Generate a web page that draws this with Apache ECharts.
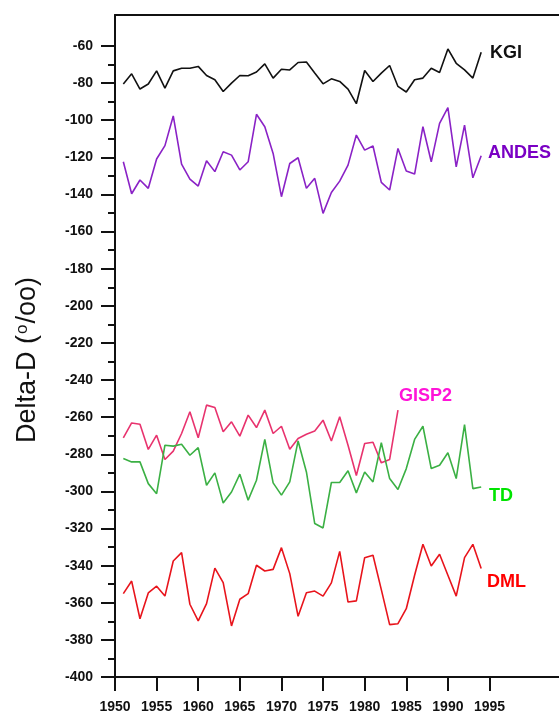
<!DOCTYPE html>
<html>
<head>
<meta charset="utf-8">
<script src="https://cdn.jsdelivr.net/npm/echarts@6/dist/echarts.min.js"></script>
<style>
  html, body { margin: 0; padding: 0; background: #fff; }
  #chart { width: 559px; height: 715px; }
</style>
</head>
<body>
<div id="chart"></div>
<script>
// Annual deuterium records, 1951-1994
const years = [1951,1952,1953,1954,1955,1956,1957,1958,1959,1960,
               1961,1962,1963,1964,1965,1966,1967,1968,1969,1970,
               1971,1972,1973,1974,1975,1976,1977,1978,1979,1980,
               1981,1982,1983,1984,1985,1986,1987,1988,1989,1990,
               1991,1992,1993,1994];

const kgi = [-80.5,-75,-83.2,-80.5,-73.4,-82.7,-73.4,-72,-72,-71,
             -75.9,-78.2,-84.5,-80,-75.9,-76,-74,-69.6,-77.3,-72.5,
             -72.9,-68.9,-68.6,-74.6,-80.4,-77.7,-79.1,-83.2,-91.1,-73.2,
             -79.1,-74.6,-70.5,-81.8,-84.8,-78.2,-77.3,-72,-74.3,-61.6,
             -69.3,-72.9,-77.3,-63.4];

const andes = [-122.4,-139.6,-132.2,-136.7,-120.9,-113.7,-97.7,-123.6,-131.7,-135.5,
               -121.8,-127.7,-117,-118.8,-126.8,-122.4,-96.8,-103.5,-117.9,-141.2,
               -123.3,-120.2,-136.7,-131.3,-150.2,-138.9,-132.8,-124.2,-108,-116.1,
               -113.9,-133.5,-137.6,-115.2,-127.4,-129,-103.5,-122.4,-101.7,-93.2,
               -125.1,-102.6,-131,-119.1];

// GISP2 ends in 1984
const gisp2 = [-271.1,-263.1,-263.8,-277.4,-269.7,-282.8,-278.3,-268.8,-257.1,-271.1,
               -253.5,-254.8,-267.9,-262.5,-270.2,-258.9,-265.6,-256.2,-268.8,-264.9,
               -277.3,-271.5,-269.2,-267.5,-261.6,-272.8,-259.8,-275.1,-291.4,-274.2,
               -273.5,-284.6,-282.8,-256.2];

const td = [-282.3,-284.1,-284.1,-295.8,-301.2,-275.1,-275.6,-274.6,-280.5,-276.4,
            -296.7,-290,-306.2,-300.3,-290.7,-304.7,-294,-272,-295.4,-302,
            -294.9,-272.8,-289.5,-317.3,-319.7,-295.2,-295.2,-288.9,-300.8,-289.5,
            -294.9,-273.8,-293.1,-299,-287.7,-272,-264.9,-287.7,-285.9,-279.2,
            -293.1,-264,-298.5,-297.6];

const dml = [-355.1,-348.3,-368.6,-354.7,-351.1,-356.4,-337.5,-333,-360.8,-369.8,
             -360.5,-341.3,-349.2,-372.5,-358.1,-355.1,-339.8,-342.9,-342,-330.3,
             -344.3,-367.3,-354.6,-353.7,-356.4,-349.3,-332.3,-359.6,-359,-335.7,
             -334.4,-352.9,-371.8,-371.3,-363.2,-345.2,-328.5,-340.2,-333.9,-345.2,
             -356.4,-335.7,-328.5,-341.6];

// Axis ticks
const xTicks = [1950,1955,1960,1965,1970,1975,1980,1985,1990,1995];
const yMajor = [-400,-380,-360,-340,-320,-300,-280,-260,-240,-220,
                -200,-180,-160,-140,-120,-100,-80,-60];
const yMinor = [-390,-370,-350,-330,-310,-290,-270,-250,-230,-210,
                -190,-170,-150,-130,-110,-90,-70];

const seriesNames = ['KGI','ANDES','GISP2','TD','DML'];
const seriesValues = [kgi, andes, gisp2, td, dml];
const lineColors = ['#111111','#8a22c6','#e8336e','#3bb044','#e8141c'];
const labelColors = ['#111111','#7a00c4','#ff14d8','#00e400','#ff0000'];

const X_MIN = 1950, X_MAX = 2003.35;
const Y_MIN = -400, Y_MAX = -43.3;
const FONT = '"Liberation Sans", Arial, sans-serif';
const tickFont = { fontFamily: FONT, fontWeight: 'bold', fontSize: 14, color: '#111' };

const chart = echarts.init(document.getElementById('chart'), null, { renderer: 'canvas' });

const option = {
  backgroundColor: '#ffffff',
  animation: false,
  grid: { left: 115, right: 0, top: 15, bottom: 38 },
  xAxis: [
    {
      type: 'value', min: X_MIN, max: X_MAX, position: 'bottom',
      axisLine: { show: true, onZero: false, lineStyle: { color: '#111', width: 2 } },
      axisTick: { show: true, inside: false, length: 14, customValues: xTicks, lineStyle: { color: '#111', width: 2 } },
      axisLabel: Object.assign({ margin: 23, customValues: xTicks, formatter: v => String(v) }, tickFont),
      splitLine: { show: false }
    },
    {
      type: 'value', min: X_MIN, max: X_MAX, position: 'top',
      axisLine: { show: true, onZero: false, lineStyle: { color: '#111', width: 2 } },
      axisTick: { show: false }, axisLabel: { show: false }, splitLine: { show: false }
    }
  ],
  yAxis: [
    {
      type: 'value', min: Y_MIN, max: Y_MAX, position: 'left',
      axisLine: { show: true, onZero: false, lineStyle: { color: '#111', width: 2 } },
      axisTick: { show: true, inside: false, length: 14, customValues: yMajor, lineStyle: { color: '#111', width: 2 } },
      axisLabel: Object.assign({ margin: 22, customValues: yMajor, formatter: v => String(v) }, tickFont),
      splitLine: { show: false }
    },
    {
      type: 'value', min: Y_MIN, max: Y_MAX, position: 'left',
      axisLine: { show: false },
      axisTick: { show: true, inside: false, length: 7, customValues: yMinor, lineStyle: { color: '#111', width: 2 } },
      axisLabel: { show: false }, splitLine: { show: false }
    }
  ],
  series: seriesNames.map((name, k) => ({
    name: name,
    type: 'line',
    xAxisIndex: 0, yAxisIndex: 0,
    symbol: 'none',
    lineStyle: { color: lineColors[k], width: 1.6 },
    data: seriesValues[k].map((v, i) => [years[i], v]),
    z: 3
  })),
  graphic: [
    // vertical axis title with per-mil superscript
    {
      type: 'text', x: 28, y: 360, rotation: Math.PI / 2,
      style: {
        text: 'Delta-D ({sup|o}/oo)',
        fill: '#111', fontFamily: FONT, fontSize: 27,
        align: 'center', verticalAlign: 'middle',
        rich: { sup: { fontFamily: FONT, fontSize: 17, fill: '#111', verticalAlign: 'top', padding: [0, 1, 11, 1] } }
      }
    },
    { type: 'text', left: 490, top: 44, style: { text: 'KGI', fill: labelColors[0], font: 'bold 18px ' + FONT } },
    { type: 'text', left: 488, top: 144, style: { text: 'ANDES', fill: labelColors[1], font: 'bold 18px ' + FONT } },
    { type: 'text', left: 399, top: 387, style: { text: 'GISP2', fill: labelColors[2], font: 'bold 18px ' + FONT } },
    { type: 'text', left: 489, top: 487, style: { text: 'TD', fill: labelColors[3], font: 'bold 18px ' + FONT } },
    { type: 'text', left: 487, top: 573, style: { text: 'DML', fill: labelColors[4], font: 'bold 18px ' + FONT } }
  ]
};

chart.setOption(option);
</script>
</body>
</html>
